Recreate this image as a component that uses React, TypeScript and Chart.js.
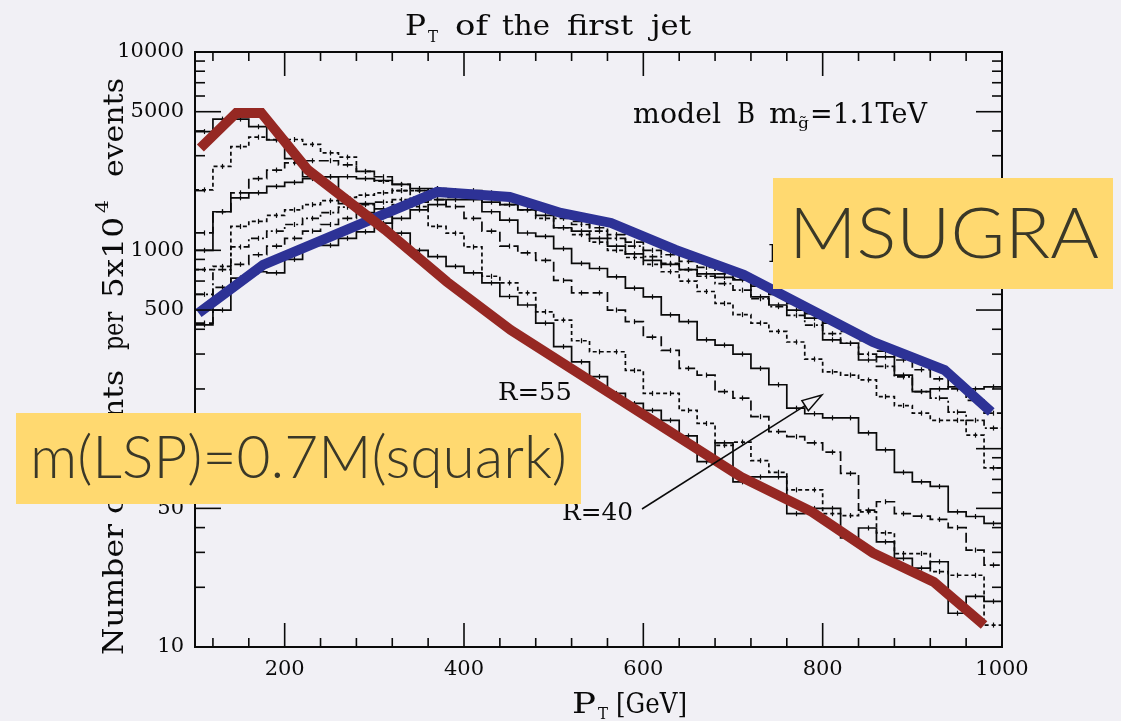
import { useEffect, useRef } from "react";
import { Chart, registerables } from "chart.js";

Chart.register(...registerables);

// ---------- data ----------
const binEdges = [100, 120, 140, 160, 180, 200, 220, 240, 260, 280, 300, 320, 340, 360, 380, 400, 420, 440, 460, 480, 500, 520, 540, 560, 580, 600, 620, 640, 660, 680, 700, 720, 740, 760, 780, 800, 820, 840, 860, 880, 900, 920, 940, 960, 980, 1000];

const histSolid1 = [3970, 4590, 4590, 4200, 3600, 2900, 2350, 2350, 1720, 1720, 1480, 1220, 1000, 930, 830, 770, 685, 585, 530, 430, 327, 274, 231, 190, 169, 156, 139, 116, 86, 107, 68, 72, 72, 47, 50, 50, 35.5, 39.8, 33.9, 28, 25, 26.9, 14.8, 18, 17];
const histDash2 = [2018, 2650, 3330, 3720, 3620, 3620, 3420, 3100, 2950, 2500, 2230, 2000, 1660, 1320, 1220, 1040, 740, 685, 610, 490, 445, 350, 308, 308, 248, 190, 190, 156, 134, 104, 108, 87, 76, 62, 62, 47, 46, 48, 37.6, 29.6, 29.6, 24, 23, 23, 12.9];
const histLong3 = [1224, 1565, 1950, 2300, 2540, 2760, 2830, 2830, 2700, 2500, 2350, 2150, 2000, 1800, 1660, 1450, 1250, 1050, 970, 890, 705, 610, 610, 500, 437, 365, 313, 254, 235, 194, 180, 145, 122, 115, 107, 96, 75, 49, 54, 47, 45.7, 44, 40, 30.8, 25.9];
const histSolid4 = [1000, 1565, 1840, 1950, 2100, 2200, 2300, 2350, 2350, 2300, 2250, 2150, 2050, 1950, 1900, 1870, 1565, 1420, 1223, 1175, 1020, 860, 810, 735, 645, 583, 473, 437, 354, 333, 300, 254, 210, 160, 150, 143, 143, 120, 98.6, 76, 68, 64.5, 48, 45.5, 42];
const histDash5 = [800, 830, 1320, 1400, 1500, 1600, 1700, 1780, 1850, 1900, 1950, 2000, 2000, 2050, 2000, 1950, 1850, 1700, 1600, 1450, 1300, 1200, 1100, 1000, 920, 850, 780, 700, 620, 540, 474, 430, 390, 345, 283, 244, 235, 222, 183, 165, 151, 139, 139, 117, 80];
const histDashDot6 = [600, 800, 1040, 1150, 1250, 1350, 1450, 1550, 1650, 1700, 1750, 1800, 1850, 1900, 1950, 2000, 1950, 1850, 1750, 1600, 1450, 1350, 1250, 1150, 1050, 930, 860, 800, 740, 680, 630, 570, 520, 470, 420, 380, 340, 300, 260, 230, 194, 180, 153, 139, 127];
const histLong7 = [430, 650, 850, 950, 1050, 1150, 1250, 1350, 1450, 1550, 1620, 1700, 1750, 1800, 1850, 1900, 1900, 1850, 1750, 1650, 1500, 1400, 1300, 1200, 1100, 1000, 950, 880, 820, 760, 720, 660, 600, 540, 480, 430, 390, 350, 310, 280, 250, 225, 200, 175, 151];
const histSolid8 = [421, 500, 725, 780, 770, 900, 1060, 1060, 1150, 1240, 1370, 1450, 1600, 1700, 1800, 1800, 1750, 1700, 1600, 1500, 1300, 1250, 1150, 1050, 960, 890, 850, 800, 760, 730, 710, 583, 530, 500, 455, 354, 340, 280, 290, 235, 194, 200, 205, 200, 205];

const redX = [106, 146, 174, 226, 312, 381, 452, 709, 788, 856, 924, 980];
const redY = [3280, 4930, 4930, 2540, 1270, 693, 397, 72, 48, 29.8, 21.3, 12.9];
const blueX = [104, 176, 370, 451, 508, 564, 636, 712, 856, 936, 988];
const blueY = [483, 844, 1971, 1859, 1544, 1374, 1005, 752, 345, 249, 153];

const xTickLabels = [200, 400, 600, 800, 1000];
const yTickLabels = [10, 50, 100, 500, 1000, 5000, 10000];
const xMajorTicks = [200, 400, 600, 800];
const xMinorTicks = [120, 160, 240, 280, 320, 360, 440, 480, 520, 560, 640, 680, 720, 760, 840, 880, 920, 960];
const yMajorTicks = [50, 100, 500, 1000, 5000];
const yMinorTicks = [20, 30, 40, 60, 70, 80, 90, 200, 300, 400, 600, 700, 800, 900, 2000, 3000, 4000, 6000, 7000, 8000, 9000];

// ---------- styles ----------
const BG = "#f1f0f5";
const SERIF = "'DejaVu Serif', serif";
const SANS = "Lato, 'Open Sans', sans-serif";
const INK = "#0a0a0a";
const YELLOW = "#ffd970";
const BOX_TEXT = "#3a3828";

const histograms = [
  { vals: histSolid1, dash: [] as number[] },
  { vals: histDash2, dash: [4, 3] },
  { vals: histLong3, dash: [10, 4] },
  { vals: histSolid4, dash: [] as number[] },
  { vals: histDash5, dash: [4, 3] },
  { vals: histDashDot6, dash: [8, 3, 2, 3] },
  { vals: histLong7, dash: [10, 4] },
  { vals: histSolid8, dash: [] as number[] },
];

function histPoints(vals: number[]) {
  return binEdges.map((x, i) => ({ x, y: vals[Math.min(i, vals.length - 1)] }));
}

function fitText(ctx: CanvasRenderingContext2D, text: string, x: number, y: number, width: number, font: string) {
  ctx.save();
  ctx.font = font;
  ctx.textAlign = "left";
  ctx.textBaseline = "alphabetic";
  const w = ctx.measureText(text).width || 1;
  ctx.translate(x, y);
  ctx.scale(width / w, 1);
  ctx.fillText(text, 0, 0);
  ctx.restore();
}

function rotText(ctx: CanvasRenderingContext2D, text: string, baseX: number, fromY: number, toY: number, font: string) {
  ctx.save();
  ctx.translate(baseX, fromY);
  ctx.rotate(-Math.PI / 2);
  fitText(ctx, text, 0, 0, fromY - toY, font);
  ctx.restore();
}

const overlayPlugin = {
  id: "overlay",
  beforeDraw(chart: any) {
    const ctx = chart.ctx as CanvasRenderingContext2D;
    ctx.save();
    ctx.fillStyle = BG;
    ctx.fillRect(0, 0, chart.width, chart.height);
    ctx.restore();
  },
  beforeDatasetsDraw(chart: any) {
    // small statistical error ticks at bin centres
    const ctx = chart.ctx as CanvasRenderingContext2D;
    const xs = chart.scales.x;
    const ys = chart.scales.y;
    ctx.save();
    ctx.strokeStyle = INK;
    ctx.lineWidth = 1.2;
    histograms.forEach((h) => {
      h.vals.forEach((v, i) => {
        const cx = xs.getPixelForValue((binEdges[i] + binEdges[i + 1]) / 2);
        const cy = ys.getPixelForValue(v);
        ctx.beginPath();
        ctx.moveTo(Math.round(cx) + 0.5, cy - 2.5);
        ctx.lineTo(Math.round(cx) + 0.5, cy + 2.5);
        ctx.stroke();
      });
    });
    ctx.restore();
  },
  afterDatasetsDraw(chart: any) {
    const ctx = chart.ctx as CanvasRenderingContext2D;
    const { left, right, top, bottom } = chart.chartArea;
    const xs = chart.scales.x;
    const ys = chart.scales.y;
    ctx.save();
    ctx.strokeStyle = INK;
    ctx.lineWidth = 2;
    ctx.strokeRect(left, top, right - left, bottom - top);
    ctx.lineWidth = 1.6;
    const seg = (x1: number, y1: number, x2: number, y2: number) => {
      ctx.beginPath();
      ctx.moveTo(x1, y1);
      ctx.lineTo(x2, y2);
      ctx.stroke();
    };
    xMajorTicks.forEach((v) => {
      const p = xs.getPixelForValue(v);
      seg(p, bottom, p, bottom - 24);
      seg(p, top, p, top + 24);
    });
    xMinorTicks.forEach((v) => {
      const p = xs.getPixelForValue(v);
      seg(p, bottom, p, bottom - 9);
      seg(p, top, p, top + 9);
    });
    yMajorTicks.forEach((v) => {
      const p = ys.getPixelForValue(v);
      seg(left, p, left + 26, p);
      seg(right, p, right - 26, p);
    });
    yMinorTicks.forEach((v) => {
      const p = ys.getPixelForValue(v);
      seg(left, p, left + 10, p);
      seg(right, p, right - 10, p);
    });

    // annotations inside the plot
    ctx.fillStyle = INK;
    fitText(ctx, "model", 633, 123, 88, `28px ${SERIF}`);
    fitText(ctx, "B", 737, 123, 18, `28px ${SERIF}`);
    fitText(ctx, "m", 769, 123, 29, `28px ${SERIF}`);
    fitText(ctx, "g\u0303", 798, 128, 11, `15px ${SERIF}`);
    fitText(ctx, "=1.1TeV", 810, 123, 117, `28px ${SERIF}`);
    fitText(ctx, "R=55", 498, 400, 74, `25px ${SERIF}`);
    fitText(ctx, "R=40", 562, 520, 71, `25px ${SERIF}`);
    fitText(ctx, "R=50", 768, 262, 71, `25px ${SERIF}`);

    // arrow from R=40 label
    ctx.lineWidth = 1.5;
    const ax0 = 642, ay0 = 509, ax1 = 822, ay1 = 395;
    const ang = Math.atan2(ay1 - ay0, ax1 - ax0);
    const hl = 20, hw = 6;
    const bx = ax1 - hl * Math.cos(ang), by = ay1 - hl * Math.sin(ang);
    seg(ax0, ay0, bx, by);
    ctx.beginPath();
    ctx.moveTo(ax1, ay1);
    ctx.lineTo(bx + hw * Math.sin(ang), by - hw * Math.cos(ang));
    ctx.lineTo(bx - hw * Math.sin(ang), by + hw * Math.cos(ang));
    ctx.closePath();
    ctx.stroke();
    ctx.restore();
  },
  afterDraw(chart: any) {
    const ctx = chart.ctx as CanvasRenderingContext2D;
    ctx.save();
    ctx.fillStyle = INK;
    // title
    fitText(ctx, "P", 405, 35, 21, `28px ${SERIF}`);
    fitText(ctx, "T", 428, 42, 10, `16px ${SERIF}`);
    fitText(ctx, "of", 455, 35, 33, `28px ${SERIF}`);
    fitText(ctx, "the", 502, 35, 48, `28px ${SERIF}`);
    fitText(ctx, "first", 567, 35, 66, `28px ${SERIF}`);
    fitText(ctx, "jet", 651, 35, 40, `28px ${SERIF}`);
    // x axis title
    fitText(ctx, "P", 572, 713, 24, `28px ${SERIF}`);
    fitText(ctx, "T", 598, 719, 10, `16px ${SERIF}`);
    fitText(ctx, "[GeV]", 616, 713, 71, `28px ${SERIF}`);
    // y axis title (rotated)
    rotText(ctx, "Number of events", 123, 655, 370, `28px ${SERIF}`);
    rotText(ctx, "per", 123, 350, 312, `28px ${SERIF}`);
    rotText(ctx, "5x10", 123, 298, 217, `28px ${SERIF}`);
    rotText(ctx, "4", 108, 213, 200, `17px ${SERIF}`);
    rotText(ctx, "events", 123, 177, 78, `28px ${SERIF}`);

    // yellow label boxes
    ctx.fillStyle = YELLOW;
    ctx.fillRect(773, 178, 340, 111);
    ctx.fillRect(16, 413, 565, 91);
    ctx.fillStyle = BOX_TEXT;
    fitText(ctx, "MSUGRA", 789, 258, 310, `300 71px ${SANS}`);
    fitText(ctx, "m(LSP)=0.7M(squark)", 30, 478, 537, `300 60px ${SANS}`);
    ctx.restore();
  },
};

export default function App() {
  const ref = useRef<HTMLCanvasElement | null>(null);
  useEffect(() => {
    document.body.style.margin = "0";
    document.body.style.background = BG;
    const canvas = ref.current;
    if (!canvas) return;
    const datasets: any[] = histograms.map((h) => ({
      data: histPoints(h.vals),
      borderColor: INK,
      borderWidth: 1.7,
      borderDash: h.dash,
      stepped: true,
      pointRadius: 0,
      fill: false,
      order: 2,
    }));
    datasets.push({
      data: redX.map((x, i) => ({ x, y: redY[i] })),
      borderColor: "#962823",
      borderWidth: 10,
      borderJoinStyle: "miter",
      borderCapStyle: "butt",
      pointRadius: 0,
      tension: 0,
      fill: false,
      order: 0,
    });
    datasets.push({
      data: blueX.map((x, i) => ({ x, y: blueY[i] })),
      borderColor: "#2d3296",
      borderWidth: 10,
      borderJoinStyle: "miter",
      borderCapStyle: "butt",
      pointRadius: 0,
      tension: 0,
      fill: false,
      order: 1,
    });
    const chart = new Chart(canvas, {
      type: "line",
      data: { datasets },
      options: {
        responsive: false,
        animation: false,
        events: [],
        layout: { padding: { top: 52, right: 119, left: 0, bottom: 0 } },
        plugins: { legend: { display: false }, tooltip: { enabled: false }, title: { display: false } },
        elements: { point: { radius: 0 } },
        scales: {
          x: {
            type: "linear",
            min: 100,
            max: 1000,
            grid: { display: false, drawTicks: false },
            border: { display: false },
            afterBuildTicks: (axis: any) => {
              axis.ticks = xTickLabels.map((v) => ({ value: v }));
            },
            afterFit: (axis: any) => {
              axis.height = 74;
            },
            ticks: {
              autoSkip: false,
              maxRotation: 0,
              padding: 10,
              color: INK,
              font: { family: "'DejaVu Serif'", size: 21 },
              callback: (v: any) => String(v),
            },
          },
          y: {
            type: "logarithmic",
            min: 10,
            max: 10000,
            grid: { display: false, drawTicks: false },
            border: { display: false },
            afterBuildTicks: (axis: any) => {
              axis.ticks = yTickLabels.map((v) => ({ value: v }));
            },
            afterFit: (axis: any) => {
              axis.width = 195;
            },
            ticks: {
              autoSkip: false,
              padding: 11,
              color: INK,
              font: { family: "'DejaVu Serif'", size: 21 },
              callback: (v: any) => String(v),
            },
          },
        },
      } as any,
      plugins: [overlayPlugin],
    });
    return () => chart.destroy();
  }, []);
  return <canvas ref={ref} width={1121} height={721} style={{ display: "block" }} />;
}
